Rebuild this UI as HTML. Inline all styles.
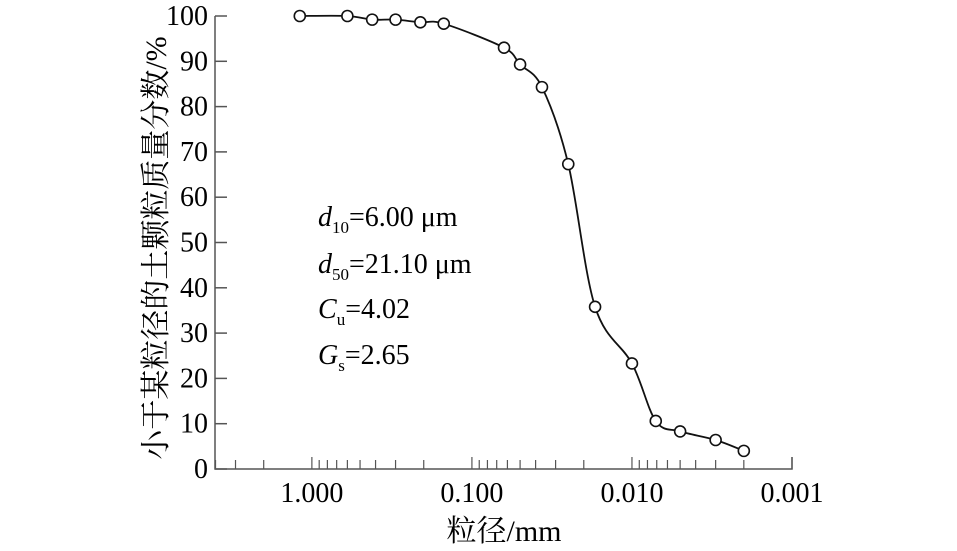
<!DOCTYPE html>
<html><head><meta charset="utf-8"><style>
html,body{margin:0;padding:0;background:#fff;}
svg{display:block;}
text{font-family:"Liberation Serif","Noto Serif CJK SC",serif;fill:#000;}
</style></head><body>
<svg id="chart" width="957" height="551" viewBox="0 0 957 551" xmlns="http://www.w3.org/2000/svg">
<g id="axes"></g>
<g id="series"></g>
<g font-size="28">
<text x="318" y="226"><tspan font-style="italic">d</tspan><tspan font-size="17" dy="7">10</tspan><tspan dy="-7">=6.00 μm</tspan></text>
<text x="318" y="273"><tspan font-style="italic">d</tspan><tspan font-size="17" dy="7">50</tspan><tspan dy="-7">=21.10 μm</tspan></text>
<text x="318" y="318"><tspan font-style="italic">C</tspan><tspan font-size="17" dy="7">u</tspan><tspan dy="-7">=4.02</tspan></text>
<text x="318" y="364"><tspan font-style="italic">G</tspan><tspan font-size="17" dy="7">s</tspan><tspan dy="-7">=2.65</tspan></text>
</g>
<text x="504" y="541" text-anchor="middle" font-size="30">粒径/mm</text>
<text transform="translate(166,248) rotate(-90)" text-anchor="middle" font-size="30">小于某粒径的土颗粒质量分数/%</text>
</svg>
<script>
const sizes = [1.19, 0.6, 0.42, 0.3, 0.21, 0.15, 0.063, 0.05, 0.0365, 0.025, 0.017, 0.01, 0.0071, 0.005, 0.003, 0.002];
const passing = [100, 100, 99.2, 99.2, 98.6, 98.3, 93, 89.3, 84.3, 67.3, 35.8, 23.3, 10.6, 8.3, 6.4, 4.0];
const yTicks = [0, 10, 20, 30, 40, 50, 60, 70, 80, 90, 100];
const xMajor = [1, 0.1, 0.01, 0.001];
const xMajorLabels = ["1.000", "0.100", "0.010", "0.001"];
const xMin = 4.03, xMaxV = 0.001;

const X0 = 215, X1 = 792, Y0 = 469, Y1 = 16;
const NS = "http://www.w3.org/2000/svg";
function xs(v){ return X0 + (Math.log10(xMin) - Math.log10(v)) / (Math.log10(xMin) - Math.log10(xMaxV)) * (X1 - X0); }
function ys(v){ return Y0 - v / 100 * (Y0 - Y1); }
function mk(tag, attrs, parent){ const e = document.createElementNS(NS, tag); for (const k in attrs) e.setAttribute(k, attrs[k]); parent.appendChild(e); return e; }

const axes = document.getElementById('axes');
const ax = mk('path', {d:`M${X1},${Y0-12} V${Y0} H${X0} V${Y1}`, fill:'none', stroke:'#555', 'stroke-width':1.5}, axes);



yTicks.forEach(t => {
  const y = ys(t);
  const l = mk('line', {x1:X0, x2:X0+12, y1:y, y2:y, stroke:'#555', 'stroke-width':1.5}, axes);
  
  
  const tx = mk('text', {x:X0-7, y:y+9, 'text-anchor':'end', 'font-size':28}, axes);
  tx.textContent = t;
  
  
});

for (let e = 0; e >= -3; e--) {
  for (let m = 1; m <= 9; m++) {
    const v = m * Math.pow(10, e);
    if (v > xMin || v < xMaxV - 1e-12) continue;
    const x = xs(v);
    const len = m === 1 ? 12 : 9;
    const l = mk('line', {x1:x, x2:x, y1:Y0, y2:Y0-len, stroke:'#555', 'stroke-width':1.2}, axes);
    
    
  }
}
xMajor.forEach((v, i) => {
  const tx = mk('text', {x:xs(v), y:Y0+33, 'text-anchor':'middle', 'font-size':28}, axes);
  tx.textContent = xMajorLabels[i];
  
  
});

const series = document.getElementById('series');
const pts = sizes.map((s, i) => [xs(s), ys(passing[i])]);
let d = `M${pts[0][0]},${pts[0][1]}`;
for (let i = 0; i < pts.length - 1; i++) {
  const p0 = pts[Math.max(0, i-1)], p1 = pts[i], p2 = pts[i+1], p3 = pts[Math.min(pts.length-1, i+2)];
  const c1 = [p1[0] + (p2[0]-p0[0])/6, p1[1] + (p2[1]-p0[1])/6];
  const c2 = [p2[0] - (p3[0]-p1[0])/6, p2[1] - (p3[1]-p1[1])/6];
  d += ` C${c1[0]},${c1[1]} ${c2[0]},${c2[1]} ${p2[0]},${p2[1]}`;
}
const line = mk('path', {d, fill:'none', stroke:'#111', 'stroke-width':1.8}, series);


pts.forEach(p => {
  const c = mk('circle', {cx:p[0], cy:p[1], r:5.5, fill:'#fff', stroke:'#111', 'stroke-width':1.6}, series);
  
  
});
</script>
</body></html>
